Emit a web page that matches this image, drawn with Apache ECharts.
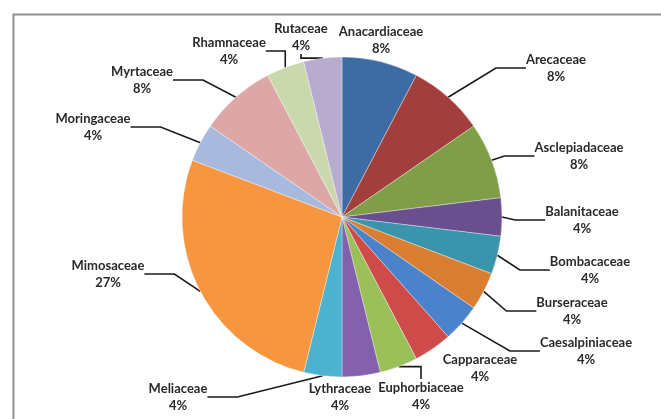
<!DOCTYPE html>
<html>
<head>
<meta charset="utf-8">
<script src="https://cdn.jsdelivr.net/npm/echarts@6/dist/echarts.min.js"></script>
<style>
html,body{margin:0;padding:0;background:#fff;}
#chart{width:661px;height:419px;}
</style>
</head>
<body>
<div id="chart"></div>
<script>
// Data (number of species per family)
const families = ["Anacardiaceae","Arecaceae","Asclepiadaceae","Balanitaceae","Bombacaceae","Burseraceae","Caesalpiniaceae","Capparaceae","Euphorbiaceae","Lythraceae","Meliaceae","Mimosaceae","Moringaceae","Myrtaceae","Rhamnaceae","Rutaceae"];
const counts = [2,2,2,1,1,1,1,1,1,1,1,7,1,2,1,1];

// Styles (colours and label placement)
const colors = ["#3d6ba4","#a23e3b","#7f9e47","#6a4f8e","#3a94ac","#da7e32","#4a83cb","#cf4b4a","#9cc059","#8461ad","#4cb2cd","#f7963f","#a8b9de","#dea7a7","#c9d9ad","#b8abd0"];
const labelPos = [[381,40],[556,68],[579,156],[582,220],[590,270],[572,311],[586,351],[480,368],[421,396],[340,397],[178,397],[108,274],[93,127],[142,80],[229,51],[301,37]];
const noLine = [true,false,false,false,false,false,false,true,false,true,false,false,false,false,false,false];

const total = counts.reduce((a,b)=>a+b,0);
const data = families.map((f,i)=>({
  name:f, value:counts[i],
  itemStyle:{color:colors[i]},
  labelLine:{show:!noLine[i]}
}));

const chart = echarts.init(document.getElementById('chart'));
chart.setOption({
  animation:false,
  graphic:[{
    type:'rect', left:11, top:12,
    shape:{width:700,height:500},
    style:{fill:'none',stroke:'#8f8f8f',lineWidth:2}
  }],
  series:[{
    type:'pie',
    center:[342,217],
    radius:160,
    startAngle:90,
    clockwise:true,
    data:data,
    itemStyle:{borderColor:'rgba(255,255,255,0.35)',borderWidth:1},
    label:{
      show:true,
      formatter:p=>p.name+'\n'+Math.round(p.value/total*100)+'%',
      fontFamily:'Lato',
      fontWeight:'bold',
      fontSize:13,
      lineHeight:17,
      color:'#2a2a2a',
      align:'center'
    },
    labelLine:{show:true,lineStyle:{color:'#1a1a1a',width:1.6}},
    labelLayout:function(p){
      const pos = labelPos[p.dataIndex];
      return {x:pos[0], y:pos[1], align:'center', verticalAlign:'middle'};
    }
  }]
});
</script>
</body>
</html>
